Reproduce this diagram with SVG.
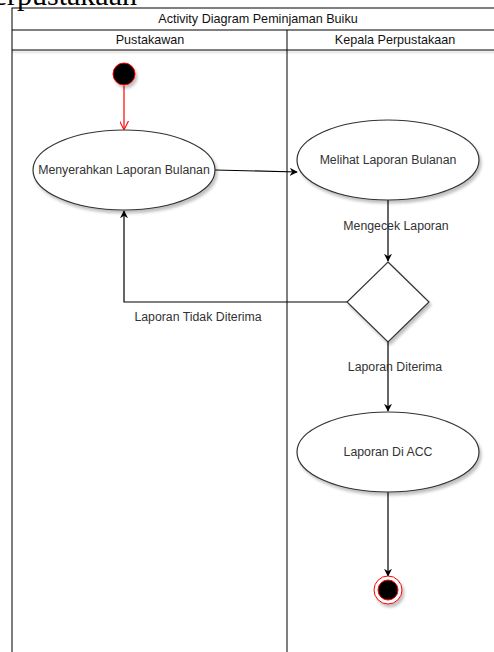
<svg xmlns="http://www.w3.org/2000/svg" width="494" height="652" viewBox="0 0 494 652">
  <style>
    .lane { fill: none; stroke: #000; stroke-width: 1; }
    .hdr { font-family: "Liberation Sans", Arial, sans-serif; font-size: 12.6px; fill: #111; text-anchor: middle; }
    .node { fill: #fff; stroke: #333; stroke-width: 1.2; filter: url(#sh); }
    .lbl { font-family: "Liberation Sans", Arial, sans-serif; font-size: 12.3px; fill: #333; text-anchor: middle; }
    .edge { fill: none; stroke: #000; stroke-width: 1.2; }
  </style>
  <defs>
    <filter id="sh" x="-20%" y="-20%" width="150%" height="150%">
      <feGaussianBlur in="SourceAlpha" stdDeviation="1.5"/>
      <feOffset dx="2" dy="3"/>
      <feComponentTransfer><feFuncA type="linear" slope="0.25"/></feComponentTransfer>
      <feMerge><feMergeNode/><feMergeNode in="SourceGraphic"/></feMerge>
    </filter>
    <marker id="arr" viewBox="0 0 10 10" refX="9" refY="5" markerWidth="8" markerHeight="8" markerUnits="userSpaceOnUse" orient="auto">
      <path d="M0,0 L10,5 L0,10 L3,5 Z" fill="#000"/>
    </marker>
    <marker id="arrRed" viewBox="0 0 10 10" refX="9" refY="5" markerWidth="9" markerHeight="9" markerUnits="userSpaceOnUse" orient="auto">
      <path d="M0,0 L10,5 L0,10" fill="none" stroke="#ff0000" stroke-width="1.2"/>
    </marker>
  </defs>
  <rect width="494" height="652" fill="#fff"/>

  <!-- page heading, partly above the frame -->
  <text x="137" y="5" text-anchor="end" font-family="'Liberation Serif', 'Times New Roman', serif" font-size="30" fill="#000">Perpustakaan</text>

  <!-- swimlane pool -->
  <g id="pool">
    <rect x="12" y="8" width="490" height="660" class="lane"/>
    <line x1="12" y1="30" x2="494" y2="30" stroke="#000"/>
    <line x1="12" y1="50" x2="494" y2="50" stroke="#000"/>
    <line x1="12" y1="52" x2="494" y2="52" stroke="#000" stroke-opacity="0.08" stroke-width="3"/>
    <line x1="287" y1="30" x2="287" y2="652" stroke="#000"/>
    <text class="hdr" x="258" y="23">Activity Diagram Peminjaman Buiku</text>
    <text class="hdr" x="150" y="44">Pustakawan</text>
    <text class="hdr" x="395" y="44">Kepala Perpustakaan</text>
  </g>

  <!-- connectors -->
  <g id="edges">
    <line x1="124" y1="86" x2="124" y2="129" stroke="#ff0000" stroke-width="1.2" marker-end="url(#arrRed)"/>
    <line class="edge" x1="215" y1="170" x2="297" y2="172" marker-end="url(#arr)"/>
    <line class="edge" x1="388" y1="200" x2="388" y2="261" marker-end="url(#arr)"/>
    <polyline class="edge" points="347,302 124,302 124,211" marker-end="url(#arr)"/>
    <line class="edge" x1="388" y1="342" x2="388" y2="411" marker-end="url(#arr)"/>
    <line class="edge" x1="388" y1="492" x2="388" y2="576" marker-end="url(#arr)"/>
    <text class="lbl" x="396" y="230">Mengecek Laporan</text>
    <text class="lbl" x="198" y="321">Laporan Tidak Diterima</text>
    <text class="lbl" x="395" y="371">Laporan Diterima</text>
  </g>

  <g id="start">
    <circle cx="124" cy="74" r="11" fill="#000" stroke="#ff0000" stroke-width="1" filter="url(#sh)"/>
  </g>

  <g id="menyerahkan">
    <ellipse class="node" cx="124" cy="170" rx="91" ry="40"/>
    <text class="lbl" x="124" y="174">Menyerahkan Laporan Bulanan</text>
  </g>

  <g id="melihat">
    <ellipse class="node" cx="388" cy="160" rx="91" ry="40"/>
    <text class="lbl" x="388" y="164">Melihat Laporan Bulanan</text>
  </g>

  <g id="keputusan">
    <polygon class="node" points="388,262 429,302 388,342 347,302"/>
  </g>

  <g id="acc">
    <ellipse class="node" cx="388" cy="452" rx="91" ry="40"/>
    <text class="lbl" x="388" y="456">Laporan Di ACC</text>
  </g>

  <g id="end">
    <circle cx="388" cy="590" r="14" fill="#fff" stroke="#ff0000" stroke-width="1" filter="url(#sh)"/>
    <circle cx="388" cy="590" r="10" fill="#000" stroke="#ff0000" stroke-width="1"/>
  </g>
</svg>
